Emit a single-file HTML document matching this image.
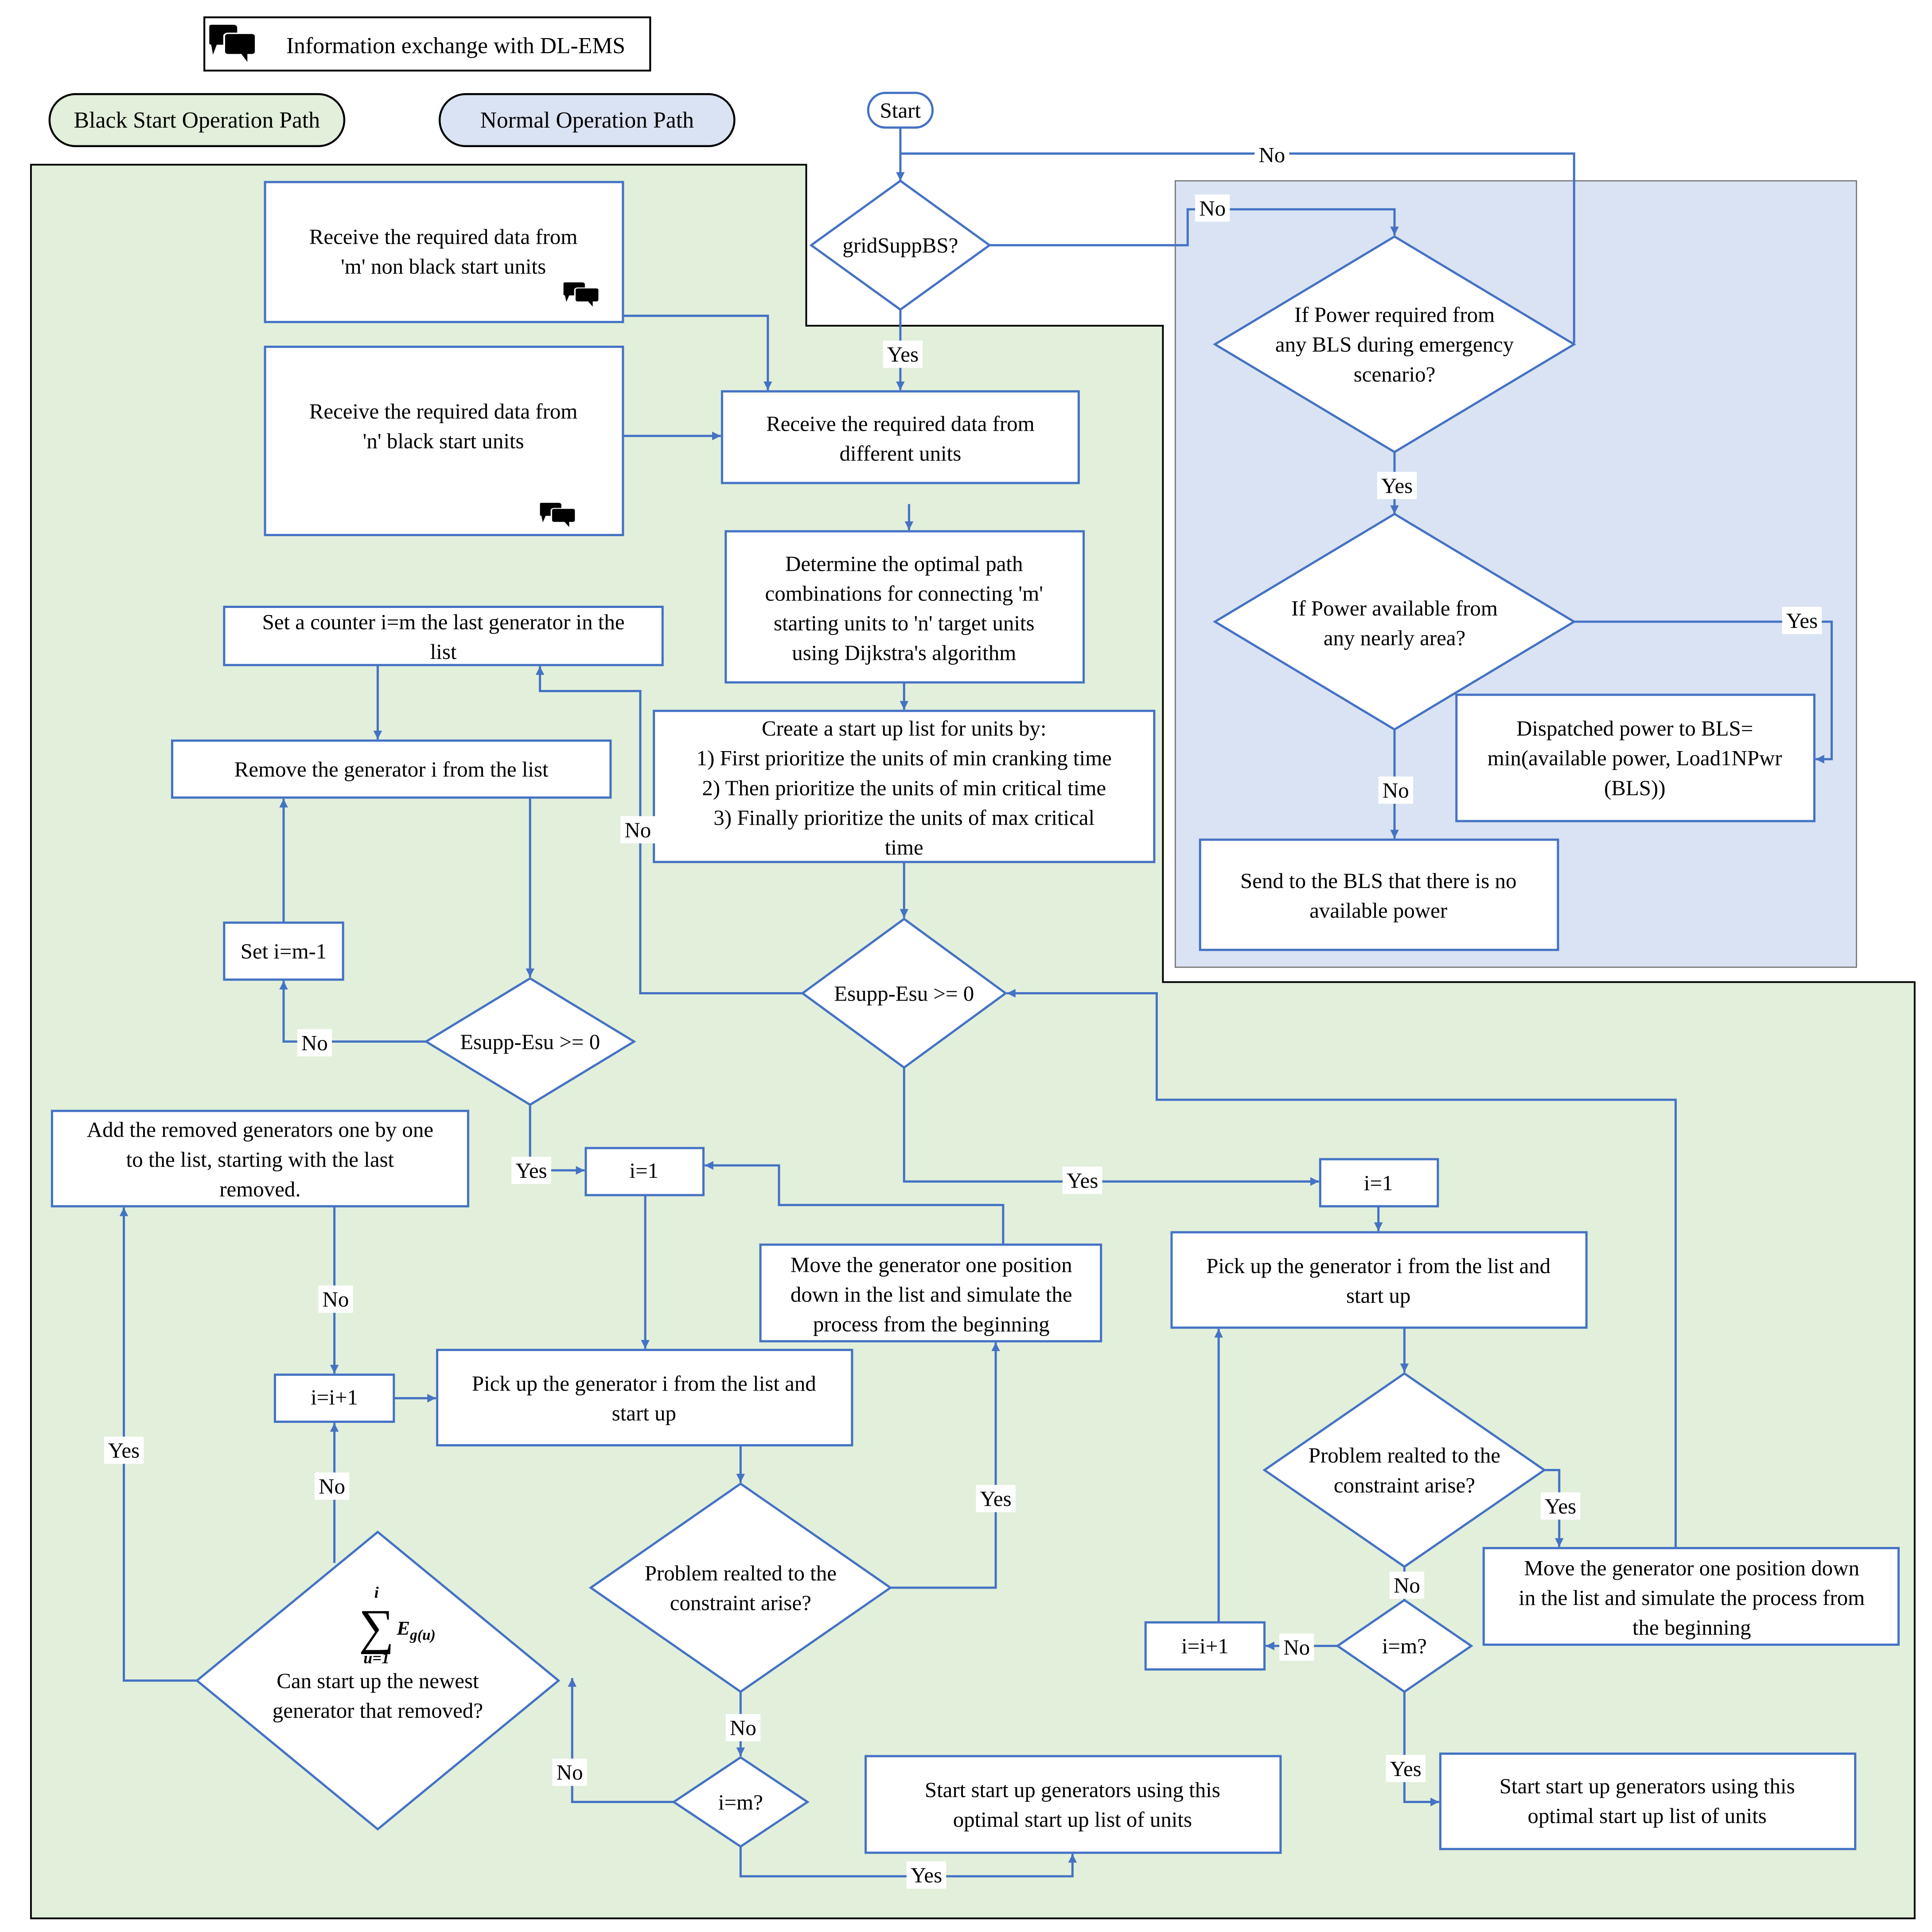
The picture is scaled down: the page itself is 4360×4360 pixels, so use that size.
<!DOCTYPE html>
<html><head><meta charset="utf-8">
<style>
html,body{margin:0;padding:0;background:#fff;}
svg{display:block;}
text{font-family:"Liberation Serif",serif;font-size:17.5px;fill:#000;text-anchor:middle;}
.b{fill:#fff;stroke:#4472C4;stroke-width:1.8;}
.l{fill:none;stroke:#4472C4;stroke-width:1.8;}
.lb{fill:#fff;stroke:none;}
</style></head>
<body>
<svg width="4360" height="4360" viewBox="0 0 1560 1560" xmlns="http://www.w3.org/2000/svg">
<defs>
<marker id="a" viewBox="0 0 10 10" refX="10" refY="5" markerWidth="7" markerHeight="7" orient="auto" markerUnits="userSpaceOnUse">
<path d="M0,0 L10,5 L0,10 z" fill="#4472C4"/></marker>
<g id="ic">
<path d="M1,0 h12 a2,2 0 0 1 2,2 v12 h-11 l-2,7 l-1,-7 h0 a1,1 0 0 1 -1,-1 v-12 a1,1 0 0 1 1,-1 z" fill="#000"/>
<path d="M10,6 h13 a2,2 0 0 1 2,2 v11 a2,2 0 0 1 -2,2 h-2 l0,7 l-4,-7 h-7 a2,2 0 0 1 -2,-2 v-11 a2,2 0 0 1 2,-2 z" fill="#000" stroke="#fff" stroke-width="1"/>
</g>
</defs>

<!-- legend -->
<rect x="165" y="14" width="360" height="43" fill="#fff" stroke="#000" stroke-width="1.5"/>
<use href="#ic" transform="translate(169,20) scale(1.5,1.15)"/>
<text x="368" y="43" style="font-size:18.5px">Information exchange with DL-EMS</text>
<rect x="40" y="76" width="238" height="42" rx="21" fill="#E2EFDA" stroke="#000" stroke-width="1.6"/>
<text x="159" y="103" style="font-size:18.5px">Black Start Operation Path</text>
<rect x="355" y="76" width="238" height="42" rx="21" fill="#DAE3F3" stroke="#000" stroke-width="1.6"/>
<text x="474" y="103" style="font-size:18.5px">Normal Operation Path</text>

<!-- regions -->
<polygon points="25,133 651,133 651,263 939,263 939,793 1546,793 1546,1549 25,1549" fill="#E2EFDA" stroke="#000" stroke-width="1.4"/>
<rect x="949" y="146" width="550" height="635" fill="#DAE3F3" stroke="#777" stroke-width="1"/>

<!-- connectors -->
<path class="l" d="M727,103 V146" marker-end="url(#a)"/>
<path class="l" d="M1271,277 V124 H727"/>
<path class="l" d="M799,198 H959 V169 H1126 V190" marker-end="url(#a)"/>
<path class="l" d="M1126,365 V415" marker-end="url(#a)"/>
<path class="l" d="M1271,502 H1479 V613 H1466" marker-end="url(#a)"/>
<path class="l" d="M1126,589 V677" marker-end="url(#a)"/>
<path class="l" d="M727,250 V315" marker-end="url(#a)"/>
<path class="l" d="M503,255 H620 V315" marker-end="url(#a)"/>
<path class="l" d="M503,352 H582" marker-end="url(#a)"/>
<path class="l" d="M734,407 V428" marker-end="url(#a)"/>
<path class="l" d="M730,551 V573" marker-end="url(#a)"/>
<path class="l" d="M730,696 V741" marker-end="url(#a)"/>
<path class="l" d="M648,802 H517 V558 H436 V538" marker-end="url(#a)"/>
<path class="l" d="M305,537 V597" marker-end="url(#a)"/>
<path class="l" d="M428,644 V789" marker-end="url(#a)"/>
<path class="l" d="M344,841 H229 V792" marker-end="url(#a)"/>
<path class="l" d="M229,745 V645" marker-end="url(#a)"/>
<path class="l" d="M428,892 V945 H472" marker-end="url(#a)"/>
<path class="l" d="M521,965 V1089" marker-end="url(#a)"/>
<path class="l" d="M810,1005 V973 H629 V941 H569" marker-end="url(#a)"/>
<path class="l" d="M598,1167 V1197" marker-end="url(#a)"/>
<path class="l" d="M719,1282 H804 V1084" marker-end="url(#a)"/>
<path class="l" d="M598,1366 V1418" marker-end="url(#a)"/>
<path class="l" d="M544,1455 H462 V1355" marker-end="url(#a)"/>
<path class="l" d="M598,1491 V1515 H866 V1497" marker-end="url(#a)"/>
<path class="l" d="M270,1262 V1149" marker-end="url(#a)"/>
<path class="l" d="M318,1129 H352" marker-end="url(#a)"/>
<path class="l" d="M159,1357 H100 V975" marker-end="url(#a)"/>
<path class="l" d="M270,974 V1109" marker-end="url(#a)"/>
<path class="l" d="M730,862 V954 H1065" marker-end="url(#a)"/>
<path class="l" d="M1113,974 V994" marker-end="url(#a)"/>
<path class="l" d="M1134,1072 V1108" marker-end="url(#a)"/>
<path class="l" d="M1247,1187 H1259 V1249" marker-end="url(#a)"/>
<path class="l" d="M1353,1250 V888 H934 V802 H813" marker-end="url(#a)"/>
<path class="l" d="M1134,1265 V1292" marker-end="url(#a)"/>
<path class="l" d="M1080,1329 H1022" marker-end="url(#a)"/>
<path class="l" d="M984,1310 V1073" marker-end="url(#a)"/>
<path class="l" d="M1134,1366 V1455 H1162" marker-end="url(#a)"/>

<!-- shapes -->
<rect class="b" x="701" y="75" width="52" height="28" rx="14"/>
<text x="727" y="95">Start</text>

<polygon class="b" points="727,146 799,198 727,250 655,198"/>
<text x="727" y="204">gridSuppBS?</text>

<polygon class="b" points="1126,191 1271,278 1126,365 981,278"/>
<text x="1126" y="260">If Power required from</text>
<text x="1126" y="284">any BLS during emergency</text>
<text x="1126" y="308">scenario?</text>

<polygon class="b" points="1126,415 1271,502 1126,589 981,502"/>
<text x="1126" y="497">If Power available from</text>
<text x="1126" y="521">any nearly area?</text>

<rect class="b" x="1176" y="561" width="289" height="102"/>
<text x="1320" y="594">Dispatched power to BLS=</text>
<text x="1320" y="618">min(available power, Load1NPwr</text>
<text x="1320" y="642">(BLS))</text>

<rect class="b" x="969" y="678" width="289" height="89"/>
<text x="1113" y="717">Send to the BLS that there is no</text>
<text x="1113" y="741">available power</text>

<rect class="b" x="214" y="147" width="289" height="113"/>
<text x="358" y="197">Receive the required data from</text>
<text x="358" y="221">'m' non black start units</text>
<use href="#ic" transform="translate(455,228) scale(1.15,0.75)"/>

<rect class="b" x="214" y="280" width="289" height="152"/>
<text x="358" y="338">Receive the required data from</text>
<text x="358" y="362">'n' black start units</text>
<use href="#ic" transform="translate(436,406) scale(1.15,0.75)"/>

<rect class="b" x="583" y="316" width="288" height="74"/>
<text x="727" y="348">Receive the required data from</text>
<text x="727" y="372">different units</text>

<rect class="b" x="586" y="429" width="289" height="122"/>
<text x="730" y="461">Determine the optimal path</text>
<text x="730" y="485">combinations for connecting 'm'</text>
<text x="730" y="509">starting units to 'n' target units</text>
<text x="730" y="533">using Dijkstra's algorithm</text>

<rect class="b" x="528" y="574" width="404" height="122"/>
<text x="730" y="594">Create a start up list for units by:</text>
<text x="730" y="618">1) First prioritize the units of min cranking time</text>
<text x="730" y="642">2) Then prioritize the units of min critical time</text>
<text x="730" y="666">3) Finally prioritize  the units of max critical</text>
<text x="730" y="690">time</text>

<polygon class="b" points="730,742 812,802 730,862 648,802"/>
<text x="730" y="808">Esupp-Esu &gt;= 0</text>

<rect class="b" x="181" y="490" width="354" height="47"/>
<text x="358" y="508">Set a counter i=m the last generator in the</text>
<text x="358" y="532">list</text>

<rect class="b" x="139" y="598" width="354" height="46"/>
<text x="316" y="627">Remove the generator i from the list</text>

<rect class="b" x="181" y="745" width="96" height="46"/>
<text x="229" y="774">Set i=m-1</text>

<polygon class="b" points="428,790 512,841 428,892 344,841"/>
<text x="428" y="847">Esupp-Esu &gt;= 0</text>

<rect class="b" x="473" y="927" width="95" height="38"/>
<text x="520" y="951">i=1</text>

<rect class="b" x="42" y="897" width="336" height="77"/>
<text x="210" y="918">Add the removed generators one by one</text>
<text x="210" y="942">to the  list, starting with the last</text>
<text x="210" y="966">removed.</text>

<rect class="b" x="614" y="1005" width="275" height="78"/>
<text x="752" y="1027">Move the generator one position</text>
<text x="752" y="1051">down in the list and simulate the</text>
<text x="752" y="1075">process from the beginning</text>

<rect class="b" x="222" y="1110" width="96" height="38"/>
<text x="270" y="1134">i=i+1</text>

<rect class="b" x="353" y="1090" width="335" height="77"/>
<text x="520" y="1123">Pick up the generator i from the list and</text>
<text x="520" y="1147">start up</text>

<polygon class="b" points="598,1198 719,1282 598,1366 477,1282"/>
<text x="598" y="1276">Problem realted to the</text>
<text x="598" y="1300">constraint arise?</text>

<polygon class="b" points="598,1419 652,1455 598,1491 544,1455"/>
<text x="598" y="1461">i=m?</text>

<rect class="b" x="699" y="1418" width="335" height="78"/>
<text x="866" y="1451">Start start up generators using this</text>
<text x="866" y="1475">optimal start up list of units</text>

<polygon class="b" points="305,1237 451,1357 305,1477 159,1357"/>
<text x="304" y="1327" style="font-size:40px">∑</text>
<text x="304" y="1290" style="font-size:13px;font-style:italic;font-weight:bold">i</text>
<text x="304" y="1343" style="font-size:13px;font-style:italic;font-weight:bold">u=1</text>
<text x="336" y="1320" style="font-size:16px;font-style:italic;font-weight:bold">E<tspan style="font-size:12px" dy="4">g(u)</tspan></text>
<text x="305" y="1363">Can start up the newest</text>
<text x="305" y="1387">generator that removed?</text>

<rect class="b" x="1066" y="936" width="95" height="38"/>
<text x="1113" y="961">i=1</text>

<rect class="b" x="946" y="995" width="335" height="77"/>
<text x="1113" y="1028">Pick up the generator i from the list and</text>
<text x="1113" y="1052">start up</text>

<polygon class="b" points="1134,1109 1247,1187 1134,1265 1021,1187"/>
<text x="1134" y="1181">Problem realted to the</text>
<text x="1134" y="1205">constraint arise?</text>

<rect class="b" x="1198" y="1250" width="335" height="78"/>
<text x="1366" y="1272">Move the generator one position down</text>
<text x="1366" y="1296">in the list and simulate the process from</text>
<text x="1366" y="1320">the beginning</text>

<polygon class="b" points="1134,1292 1188,1329 1134,1366 1080,1329"/>
<text x="1134" y="1335">i=m?</text>

<rect class="b" x="925" y="1310" width="96" height="38"/>
<text x="973" y="1335">i=i+1</text>

<rect class="b" x="1163" y="1416" width="335" height="77"/>
<text x="1330" y="1448">Start start up generators using this</text>
<text x="1330" y="1472">optimal start up list of units</text>

<!-- labels -->
<g>
<rect class="lb" x="1013" y="114" width="28" height="21"/><text x="1027" y="131">No</text>
<rect class="lb" x="965" y="157" width="28" height="22"/><text x="979" y="174">No</text>
<rect class="lb" x="1112" y="381" width="32" height="22"/><text x="1128" y="398">Yes</text>
<rect class="lb" x="1439" y="490" width="32" height="22"/><text x="1455" y="507">Yes</text>
<rect class="lb" x="1113" y="627" width="28" height="22"/><text x="1127" y="644">No</text>
<rect class="lb" x="713" y="275" width="32" height="22"/><text x="729" y="292">Yes</text>
<rect class="lb" x="501" y="659" width="28" height="22"/><text x="515" y="676">No</text>
<rect class="lb" x="240" y="831" width="28" height="22"/><text x="254" y="848">No</text>
<rect class="lb" x="413" y="934" width="32" height="22"/><text x="429" y="951">Yes</text>
<rect class="lb" x="858" y="942" width="32" height="22"/><text x="874" y="959">Yes</text>
<rect class="lb" x="788" y="1199" width="32" height="22"/><text x="804" y="1216">Yes</text>
<rect class="lb" x="586" y="1384" width="28" height="22"/><text x="600" y="1401">No</text>
<rect class="lb" x="446" y="1420" width="28" height="22"/><text x="460" y="1437">No</text>
<rect class="lb" x="732" y="1503" width="32" height="22"/><text x="748" y="1520">Yes</text>
<rect class="lb" x="254" y="1189" width="28" height="22"/><text x="268" y="1206">No</text>
<rect class="lb" x="84" y="1160" width="32" height="22"/><text x="100" y="1177">Yes</text>
<rect class="lb" x="257" y="1038" width="28" height="22"/><text x="271" y="1055">No</text>
<rect class="lb" x="1244" y="1205" width="32" height="22"/><text x="1260" y="1222">Yes</text>
<rect class="lb" x="1122" y="1269" width="28" height="22"/><text x="1136" y="1286">No</text>
<rect class="lb" x="1033" y="1319" width="28" height="22"/><text x="1047" y="1336">No</text>
<rect class="lb" x="1119" y="1417" width="32" height="22"/><text x="1135" y="1434">Yes</text>
</g>
</svg>
</body></html>
